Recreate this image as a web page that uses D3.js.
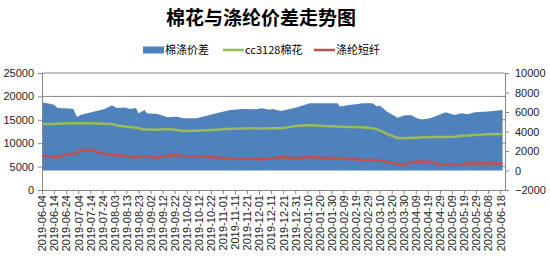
<!DOCTYPE html>
<html lang="zh">
<head>
    <meta charset="UTF-8">
    <title>棉花与涤纶价差走势图</title>
    <script src="https://cdn.jsdelivr.net/npm/d3@7"></script>
    <style>
        body { margin: 0; background: #fff; }
        .tick text { font-family: "Liberation Sans", Arial, sans-serif; font-size: 11px; fill: #222; }
        .domain, .tick line { stroke: #868686; }
    </style>
</head>
<body>
<div id="chart"></div>
<script>
    // 数据部分
    var dates = [
        "2019-06-04", "2019-06-10", "2019-06-14", "2019-06-17", "2019-06-26", "2019-06-30",
        "2019-07-03", "2019-07-06", "2019-07-14", "2019-07-26", "2019-08-01", "2019-08-05",
        "2019-08-12", "2019-08-16", "2019-08-21", "2019-08-23", "2019-08-28", "2019-08-30",
        "2019-09-08", "2019-09-16", "2019-09-24", "2019-09-29", "2019-10-10", "2019-10-21",
        "2019-10-30", "2019-11-07", "2019-11-18", "2019-11-29", "2019-12-03", "2019-12-10",
        "2019-12-12", "2019-12-19", "2020-01-01", "2020-01-12", "2020-01-23", "2020-02-04",
        "2020-02-06", "2020-02-14", "2020-02-25", "2020-03-04", "2020-03-08", "2020-03-10",
        "2020-03-12", "2020-03-16", "2020-03-25", "2020-03-30", "2020-04-05", "2020-04-10",
        "2020-04-14", "2020-04-22", "2020-04-30", "2020-05-04", "2020-05-11", "2020-05-17",
        "2020-05-22", "2020-05-28", "2020-06-08", "2020-06-20"
    ];
    // 棉涤价差（右轴）
    var spread = [
        7000, 6850, 6750, 6400, 6350, 6300,
        5500, 5700, 5950, 6320, 6680, 6400,
        6460, 6320, 6400, 5870, 6200, 5880,
        5800, 5450, 5520, 5360, 5360, 5700,
        5980, 6200, 6320, 6280, 6390, 6220,
        6320, 6100, 6460, 6900, 6900, 6900,
        6560, 6730, 6900, 6900, 6560, 6660,
        6460, 6040, 5420, 5630, 5700, 5360,
        5180, 5420, 5800, 5980, 5700, 5870,
        5770, 5980, 6040, 6210
    ];
    // cc3128棉花（左轴）
    var cotton = [
        14100, 14100, 14100, 14150, 14250, 14250,
        14250, 14250, 14250, 14150, 14100, 13800,
        13550, 13450, 13300, 13200, 12900, 12950,
        12900, 13050, 12800, 12620, 12680, 12800,
        12950, 13080, 13150, 13180, 13100, 13180,
        13180, 13180, 13680, 13890, 13680, 13550,
        13530, 13450, 13390, 13180, 12950, 12750,
        12500, 12000, 11100, 11040, 11150, 11180,
        11250, 11330, 11330, 11330, 11400, 11600,
        11650, 11750, 11900, 11970
    ];
    // 涤纶短纤（左轴）
    var polyester = [
        7300, 7150, 7000, 7050, 7690, 7760,
        7900, 8550, 8550, 7750, 7500, 7400,
        7250, 7100, 6950, 7100, 7150, 7200,
        6900, 7300, 7450, 7200, 7200, 7050,
        6900, 6700, 6650, 6600, 6550, 6690,
        6750, 7050, 6770, 7050, 6910, 6800,
        6770, 6650, 6410, 6410, 6400, 6350,
        6300, 6050, 5600, 5300, 5900, 6100,
        6150, 6000, 5350, 5450, 5500, 5340,
        5700, 5650, 5700, 5600
    ];
    var leftTicks = [0, 5000, 10000, 15000, 20000, 25000];
    var rightTicks = [-2000, 0, 2000, 4000, 6000, 8000, 10000];
    var seriesNames = ["棉涤价差", "cc3128棉花", "涤纶短纤"];
    var axisStart = "2019-06-04", axisEnd = "2020-06-22";

    var parse = d3.utcParse("%Y-%m-%d");
    var fmt = d3.utcFormat("%Y-%m-%d");
    var rows = dates.map(function (d, i) {
        return {date: parse(d), spread: spread[i], cotton: cotton[i], polyester: polyester[i]};
    });

    var width = 550, height = 259;
    var margin = {top: 73, right: 45, bottom: 69, left: 42};
    var innerW = width - margin.left - margin.right;
    var innerH = height - margin.top - margin.bottom;

    var x = d3.scaleUtc().domain([parse(axisStart), parse(axisEnd)]).range([0, innerW]);
    var yL = d3.scaleLinear().domain([0, 25000]).range([innerH, 0]);
    var yR = d3.scaleLinear().domain([-2000, 10000]).range([innerH, 0]);
    var color = ["#4F81BD", "#9BBB59", "#C0504D"];

    var svg = d3.select("#chart").append("svg")
        .attr("width", width).attr("height", height);

    // 标题
    svg.append("text")
        .attr("x", 261).attr("y", 25)
        .attr("text-anchor", "middle")
        .style("font-family", "'Noto Sans CJK SC', sans-serif")
        .style("font-weight", "bold")
        .style("font-size", "19px")
        .text("棉花与涤纶价差走势图");

    // 图例
    var legend = svg.append("g")
        .style("font-family", "'Noto Sans CJK SC', sans-serif")
        .style("font-size", "11px");
    var legendX = [143, 223, 314];
    seriesNames.forEach(function (name, i) {
        var g = legend.append("g").attr("transform", "translate(" + legendX[i] + ",50)");
        if (i === 0) {
            g.append("rect").attr("x", 0).attr("y", -3.5).attr("width", 21).attr("height", 7).attr("fill", color[0]);
        } else {
            g.append("line").attr("x1", 0).attr("x2", 21).attr("y1", 0).attr("y2", 0)
                .attr("stroke", color[i]).attr("stroke-width", 2.5);
        }
        g.append("text").attr("x", 22).attr("y", 0).attr("dy", "0.35em").text(name);
    });

    var plot = svg.append("g").attr("transform", "translate(" + margin.left + "," + margin.top + ")");

    // 网格线
    plot.append("g").selectAll("line")
        .data(leftTicks.slice(1))
        .enter().append("line")
        .attr("x1", 0).attr("x2", innerW)
        .attr("y1", function (d) { return yL(d); })
        .attr("y2", function (d) { return yL(d); })
        .attr("stroke", "#868686").attr("stroke-width", 1);

    // 面积：棉涤价差（右轴）
    var area = d3.area()
        .x(function (d) { return x(d.date); })
        .y0(yR(0))
        .y1(function (d) { return yR(d.spread); });
    plot.append("path").datum(rows).attr("d", area).attr("fill", color[0]);

    // 折线
    ["cotton", "polyester"].forEach(function (key, i) {
        var line = d3.line()
            .x(function (d) { return x(d.date); })
            .y(function (d) { return yL(d[key]); });
        plot.append("path").datum(rows).attr("d", line)
            .attr("fill", "none")
            .attr("stroke", color[i + 1])
            .attr("stroke-width", 2.5)
            .attr("stroke-linejoin", "round");
    });

    // 坐标轴
    plot.append("g")
        .call(d3.axisLeft(yL).tickValues(leftTicks).tickSize(4).tickPadding(4).tickFormat(d3.format("d")));
    plot.append("g")
        .attr("transform", "translate(" + innerW + ",0)")
        .call(d3.axisRight(yR).tickValues(rightTicks).tickSize(4).tickPadding(6).tickFormat(d3.format("d")));

    var xTicks = d3.utcDay.range(parse(axisStart), parse(axisEnd), 10);
    var xAxis = plot.append("g")
        .attr("transform", "translate(0," + innerH + ")")
        .call(d3.axisBottom(x).tickValues(xTicks).tickSize(4).tickSizeOuter(0).tickFormat(fmt));
    xAxis.selectAll("text")
        .attr("text-anchor", "end")
        .attr("transform", "rotate(-90)")
        .attr("x", -5).attr("y", 0).attr("dy", "0.35em");
</script>
</body>
</html>
